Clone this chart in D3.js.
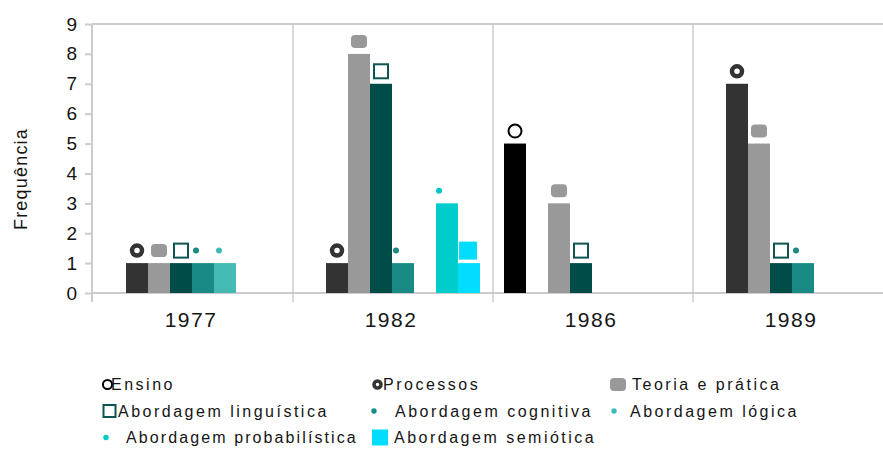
<!DOCTYPE html>
<html>
<head>
<meta charset="utf-8">
<script src="https://cdn.jsdelivr.net/npm/d3@7"></script>
<style>
  body { margin: 0; background: #fff; }
  svg text { font-family: "Liberation Sans", Arial, sans-serif; fill: #151515; }
</style>
</head>
<body>
<div class="chart"></div>
<script>
// data
var years = ['1977', '1982', '1986', '1989'];
var seriesNames = ['Ensino', 'Processos', 'Teoria e prática', 'Abordagem linguística',
  'Abordagem cognitiva', 'Abordagem lógica', 'Abordagem probabilística', 'Abordagem semiótica'];
var ensino = [0, 0, 5, 0];
var processos = [1, 1, 0, 7];
var teoria = [1, 8, 3, 5];
var linguistica = [1, 7, 1, 1];
var cognitiva = [1, 1, 0, 1];
var logica = [1, 0, 0, 0];
var probabilistica = [0, 3, 0, 0];
var semiotica = [0, 1, 0, 0];
var yTicks = [0, 1, 2, 3, 4, 5, 6, 7, 8, 9];

var values = [ensino, processos, teoria, linguistica, cognitiva, logica, probabilistica, semiotica];

// look of each series: bar colour, marker type, marker nudge, legend spacing
var styles = [
  { color: '#000000', mark: 'ring', dx: 0, lx: 103, tx: 111, ls: 2.5 },
  { color: '#333333', mark: 'bold', dx: 0, lx: 373, tx: 383, ls: 2.5 },
  { color: '#999999', mark: 'round', dx: 0, lx: 610, tx: 632, ls: 2.5 },
  { color: '#004c49', mark: 'box', dx: 0, lx: 103, tx: 118, ls: 2.5 },
  { color: '#1a8a85', mark: 'dot', dx: -7, lx: 371, tx: 395, ls: 2.5 },
  { color: '#45b9b4', mark: 'dot', dx: -6, lx: 611, tx: 630, ls: 2.5 },
  { color: '#00cccc', mark: 'dot', dx: -8, lx: 103, tx: 126, ls: 2.1 },
  { color: '#00ddff', mark: 'fill', dx: -1, lx: 372, tx: 394, ls: 2.5 }
];
var markColors = ['#111', '#333', '#999', '#0d5553', '#1a8a85', '#3cbcb6', '#00c8c8', '#00ddff'];

var W = 883, H = 449;
var svg = d3.select('.chart').append('svg').attr('width', W).attr('height', H);

var x = d3.scaleBand().domain(years).range([93, 893]);
var xs = d3.scaleBand().domain(d3.range(8)).range([11, 187]);
var y = d3.scaleLinear().domain([0, 9]).range([293, 24]);

var grid = '#cccccc';

// frame
svg.append('line').attr('x1', 92).attr('x2', W).attr('y1', y(9)).attr('y2', y(9))
  .attr('stroke', grid).attr('stroke-width', 2);
years.forEach(function(yr, i) {
  var xx = i === 0 ? 92 : x(yr);
  svg.append('line').attr('x1', xx).attr('x2', xx)
    .attr('y1', y(9)).attr('y2', 302)
    .attr('stroke', grid).attr('stroke-width', i === 0 ? 2 : 1.5);
});

// y axis
var yAxis = d3.axisLeft(y).tickValues(yTicks).tickSize(7).tickPadding(8);
var ga = svg.append('g').attr('transform', 'translate(92,0)').call(yAxis);
ga.select('.domain').remove();
ga.selectAll('line').attr('stroke', grid).attr('stroke-width', 2);
ga.selectAll('text').style('font-size', '19px').style('fill', '#151515')
  .attr('font-family', '"Liberation Sans", Arial, sans-serif');

// x axis baseline
svg.append('line').attr('x1', 92).attr('x2', W).attr('y1', y(0)).attr('y2', y(0))
  .attr('stroke', grid).attr('stroke-width', 2);

// x labels
svg.selectAll('.xl').data(years).enter().append('text')
  .attr('x', function(d) { return x(d) + x.bandwidth() / 2 - 2; })
  .attr('y', 327)
  .attr('text-anchor', 'middle')
  .style('font-size', '21px').style('letter-spacing', '1.5px')
  .text(function(d) { return d; });

// y title
svg.append('text')
  .attr('transform', 'translate(27,' + 179 + ') rotate(-90)')
  .attr('text-anchor', 'middle')
  .style('font-size', '18px').style('letter-spacing', '1.2px')
  .text('Frequência');

// bars
values.forEach(function(vals, s) {
  var g = svg.append('g');
  vals.forEach(function(v, i) {
    if (v <= 0) return;
    g.append('rect')
      .attr('x', x(years[i]) + xs(s))
      .attr('y', y(v))
      .attr('width', xs.bandwidth())
      .attr('height', y(0) - y(v))
      .attr('fill', styles[s].color);
  });
});

function drawMark(g, s, cx, cy, small) {
  var t = styles[s].mark, c = markColors[s];
  var k = small ? 0.7 : 1;
  if (t === 'ring') {
    g.append('circle').attr('cx', cx).attr('cy', cy).attr('r', 6.5 * k)
      .attr('fill', 'none').attr('stroke', '#000').attr('stroke-width', 2);
  } else if (t === 'bold') {
    g.append('circle').attr('cx', cx).attr('cy', cy).attr('r', 5 * k)
      .attr('fill', 'none').attr('stroke', c).attr('stroke-width', small ? 3.5 : 4.5);
  } else if (t === 'round') {
    g.append('rect').attr('x', cx - 8).attr('y', cy - 6.5).attr('width', 16).attr('height', 13)
      .attr('rx', 4).attr('fill', c);
  } else if (t === 'box') {
    var bw = small ? 12 : 14;
    g.append('rect').attr('x', cx - bw / 2).attr('y', cy - bw / 2).attr('width', bw).attr('height', bw)
      .attr('fill', 'none').attr('stroke', c).attr('stroke-width', 2);
  } else if (t === 'dot') {
    g.append('circle').attr('cx', cx).attr('cy', cy).attr('r', small ? 2.7 : 3).attr('fill', c);
  } else if (t === 'fill') {
    var fw = small ? 16 : 18;
    g.append('rect').attr('x', cx - fw / 2).attr('y', cy - fw / 2).attr('width', fw).attr('height', fw)
      .attr('fill', c);
  }
}

// markers above bars
values.forEach(function(vals, s) {
  var g = svg.append('g');
  vals.forEach(function(v, i) {
    if (v <= 0) return;
    var cx = x(years[i]) + xs(s) + xs.bandwidth() / 2 + styles[s].dx;
    drawMark(g, s, cx, y(v) - 12.5, false);
  });
});

// legend
var rows = [0, 0, 0, 1, 1, 1, 2, 2];
var lg = svg.append('g');
seriesNames.forEach(function(name, s) {
  var by = 390 + rows[s] * 26.5;
  var st = styles[s];
  var mx = st.mark === 'dot' ? st.lx + 3 : (st.mark === 'round' ? st.lx + 8 :
    (st.mark === 'fill' ? st.lx + 8 : (st.mark === 'box' ? st.lx + 6.5 : st.lx + 4.5)));
  drawMark(lg, s, mx, by - 5.5, true);
  lg.append('text').attr('x', st.tx).attr('y', by)
    .style('font-size', '16px').style('letter-spacing', st.ls + 'px')
    .text(name);
});
</script>
</body>
</html>
